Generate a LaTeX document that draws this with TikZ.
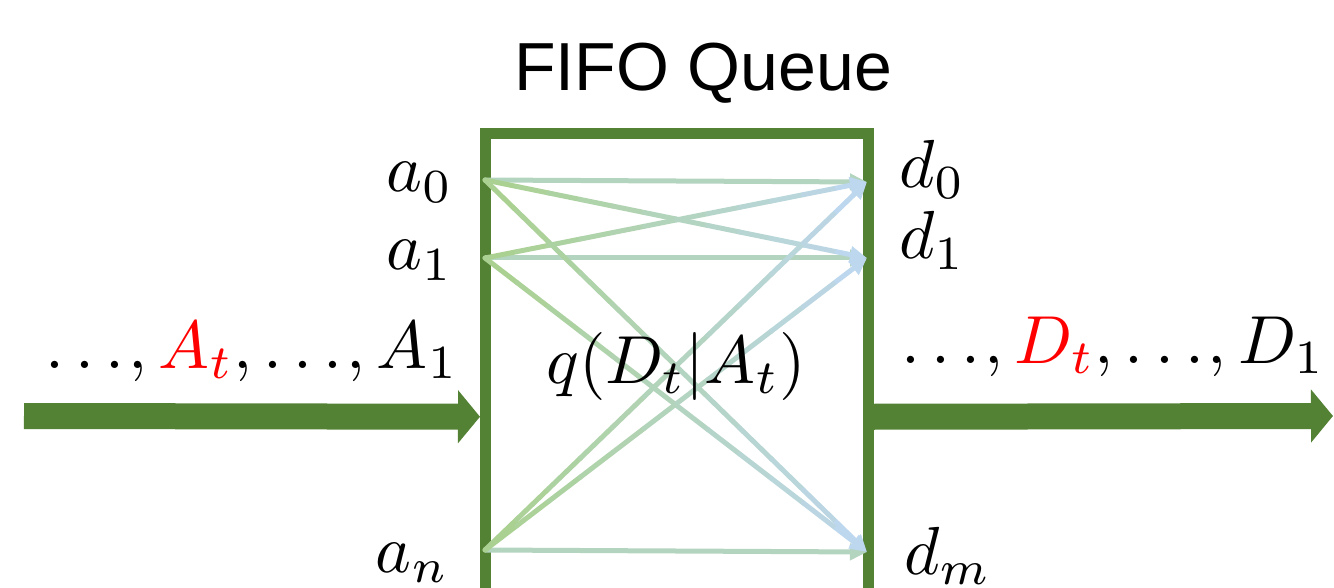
\documentclass[tikz,border=0pt]{standalone}
\usepackage{graphicx}
\usepackage{fontspec}
\newfontfamily\titlefont{Liberation Sans}
\usetikzlibrary{arrows.meta,calc}
\definecolor{boxgreen}{RGB}{84,130,53}
\definecolor{lgreen}{RGB}{169,209,142}
\definecolor{lblue}{RGB}{189,215,238}
\definecolor{pured}{RGB}{255,0,0}
\newcommand\mlbl[1]{\scalebox{6.8}{$#1$}}
\newcommand\dts{.\mkern3mu.\mkern3mu.\mkern1mu}
\tikzset{
  queuebox/.style={draw=boxgreen,line width=11pt,rectangle,minimum width=383pt,minimum height=566.5pt,inner sep=0pt},
  flowarrow/.style={draw=boxgreen,line width=26pt,-{Triangle[length=22pt,width=52pt]}},
  conn/.style={line width=5pt,line cap=round},
  conntip/.style={line width=5pt,-{Triangle[length=17pt,width=16pt]}},
  mathlbl/.style={inner sep=0pt,font=\normalsize},
  titlelbl/.style={inner sep=0pt,font=\titlefont\fontsize{68}{80}\selectfont},
}
% gradient connector from #1 to #2
\newcommand\gradconn[2]{%
  \foreach \k in {0,...,10}{%
    \pgfmathsetmacro\ta{\k/12}%
    \pgfmathsetmacro\tb{(\k+1)/12}%
    \pgfmathtruncatemacro\pc{round(100*(\k+0.5)/12)}%
    \draw[conn,color=lblue!\pc!lgreen] ($(#1)!\ta!(#2)$) -- ($(#1)!\tb!(#2)$);
  }%
  \draw[conntip,color=lblue] ($(#1)!0.9166!(#2)$) -- (#2);
}
\newcommand\flatconn[2]{%
  \draw[conntip,color=lblue!50!lgreen] (#1) -- (#2);
}
\begin{document}
\begin{tikzpicture}[x=1pt,y=-1pt]
\path[use as bounding box,clip] (0,0) rectangle (1334,588);
% queue box (its bottom runs past the picture's edge)
\node[queuebox] (queue) at (677,416.75) {};
\node[titlelbl,anchor=base west] (title) at (514,91) {FIFO Queue};
% connection points
\coordinate (pa0) at (485,180);
\coordinate (pa1) at (485,258);
\coordinate (pan) at (485,550);
\coordinate (pd0) at (867,182);
\coordinate (pd1) at (867,258);
\coordinate (pdm) at (867,552);
% connectors
\flatconn{pa0}{pd0}
\flatconn{pa1}{pd1}
\flatconn{pan}{pdm}
\gradconn{pa0}{pd1}
\gradconn{pa0}{pdm}
\gradconn{pa1}{pd0}
\gradconn{pa1}{pdm}
\gradconn{pan}{pd0}
\gradconn{pan}{pd1}
% labels
\node[mathlbl,anchor=base east] (a0) at (453,192) {\mlbl{a_0}};
\node[mathlbl,anchor=base east] (a1) at (453,270) {\mlbl{a_1}};
\node[mathlbl,anchor=base east] (an) at (449,572) {\mlbl{a_n}};
\node[mathlbl,anchor=base west] (d0) at (899,188) {\mlbl{d_0}};
\node[mathlbl,anchor=base west] (d1) at (899,259) {\mlbl{d_1}};
\node[mathlbl,anchor=base west] (dm) at (904,574) {\mlbl{d_m}};
\node[mathlbl,anchor=base west] (q) at (546,383) {\mlbl{q(D_t|A_t)}};
\node[mathlbl,anchor=base west] (inseq) at (45,368) {\mlbl{\dts,\textcolor{pured}{A_t},\dts,A_1}};
\node[mathlbl,anchor=base west] (outseq) at (901,363) {\mlbl{\dts,\textcolor{pured}{D_t},\dts,D_1}};
% flow arrows
\coordinate (src) at (24,416);
\coordinate (snk) at (1333,416);
\draw[flowarrow] (src) -- (queue.west);
\draw[flowarrow] (queue.east) -- (snk);
\end{tikzpicture}
\end{document}
